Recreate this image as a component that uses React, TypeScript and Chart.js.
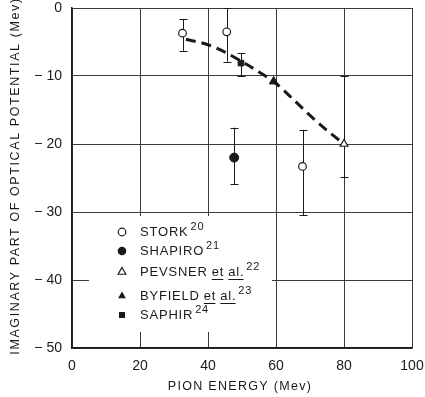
import React, { useEffect, useRef } from "react";
import { Chart, registerables } from "chart.js";

Chart.register(...registerables);

// ---- data ----
const xTickValues = [0, 20, 40, 60, 80, 100];
const xTickLabels = ["0", "20", "40", "60", "80", "100"];
const yTickValues = [0, -10, -20, -30, -40, -50];
const yTickLabels = ["0", "\u2212 10", "\u2212 20", "\u2212 30", "\u2212 40", "\u2212 50"];

const storkX = [32.5, 45.5, 67.8];
const storkY = [-3.7, -3.5, -23.3];
const storkLo = [-6.3, -7.9, -30.5];
const storkHi = [-1.6, 0, -17.9];

const shapiroX = [47.7];
const shapiroY = [-22];
const shapiroLo = [-25.9];
const shapiroHi = [-17.6];

const pevsnerX = [80];
const pevsnerY = [-20];
const pevsnerLo = [-24.9];
const pevsnerHi = [-10];

const byfieldX = [59.3];
const byfieldY = [-10.8];

const saphirX = [49.7];
const saphirY = [-8.1];
const saphirLo = [-10];
const saphirHi = [-6.6];

const curveX = [33.5, 40, 45, 50, 55, 60, 65, 70, 75, 80];
const curveY = [-4.6, -5.4, -6.5, -7.9, -9.4, -11.1, -13.4, -15.8, -18.0, -20];

const legendNames = ["STORK", "SHAPIRO", "PEVSNER", "BYFIELD", "SAPHIR"];
const legendEtAl = [false, false, true, true, false];
const legendRefs = ["20", "21", "22", "23", "24"];

const xTitle = "PION ENERGY (Mev)";
const yTitle = "IMAGINARY PART OF OPTICAL POTENTIAL (Mev)";

const INK = "#1a1a1a";
const FONT = "'Liberation Sans', Arial, sans-serif";

const pts = (xs: number[], ys: number[]) => xs.map((x, i) => ({ x, y: ys[i] }));

const errorBarPlugin = {
  id: "errorBars",
  beforeDatasetsDraw(chart: any) {
    const ctx = chart.ctx;
    const xs = chart.scales.x;
    const ys = chart.scales.y;
    ctx.save();
    ctx.strokeStyle = INK;
    ctx.lineWidth = 1;
    chart.data.datasets.forEach((ds: any) => {
      if (!ds.errLo) return;
      ds.data.forEach((p: any, i: number) => {
        const px = Math.round(xs.getPixelForValue(p.x)) + 0.5;
        const y1 = ys.getPixelForValue(ds.errLo[i]);
        const y2 = ys.getPixelForValue(ds.errHi[i]);
        ctx.beginPath();
        ctx.moveTo(px, y1);
        ctx.lineTo(px, y2);
        ctx.moveTo(px - 4, Math.round(y1) + 0.5);
        ctx.lineTo(px + 4, Math.round(y1) + 0.5);
        ctx.moveTo(px - 4, Math.round(y2) + 0.5);
        ctx.lineTo(px + 4, Math.round(y2) + 0.5);
        ctx.stroke();
      });
    });
    ctx.restore();
  },
};

function drawMarker(ctx: CanvasRenderingContext2D, kind: number, x: number, y: number) {
  ctx.save();
  ctx.strokeStyle = INK;
  ctx.fillStyle = INK;
  ctx.lineWidth = 1.2;
  ctx.beginPath();
  if (kind === 0) {
    ctx.arc(x, y, 3.8, 0, Math.PI * 2);
    ctx.fillStyle = "#fff";
    ctx.fill();
    ctx.stroke();
  } else if (kind === 1) {
    ctx.arc(x, y, 4.3, 0, Math.PI * 2);
    ctx.fill();
  } else if (kind === 2 || kind === 3) {
    const r = 4.5;
    ctx.moveTo(x, y - r);
    ctx.lineTo(x + r * 0.866, y + r * 0.5);
    ctx.lineTo(x - r * 0.866, y + r * 0.5);
    ctx.closePath();
    if (kind === 2) {
      ctx.fillStyle = "#fff";
      ctx.fill();
      ctx.stroke();
    } else {
      ctx.fill();
    }
  } else {
    ctx.rect(x - 3, y - 3, 6, 6);
    ctx.fill();
  }
  ctx.restore();
}

const legendPlugin = {
  id: "boxLegend",
  afterDraw(chart: any) {
    const ctx = chart.ctx as CanvasRenderingContext2D;
    ctx.save();
    ctx.fillStyle = "#fff";
    ctx.fillRect(89, 216, 183, 116);
    const rows = [232, 251, 272, 296, 315];
    const mx = 122;
    const tx = 140;
    legendNames.forEach((name, i) => {
      const y = rows[i];
      drawMarker(ctx, i, mx, y);
      ctx.fillStyle = INK;
      ctx.strokeStyle = INK;
      (ctx as any).letterSpacing = "0.8px";
      ctx.font = `13px ${FONT}`;
      ctx.textBaseline = "middle";
      ctx.textAlign = "left";
      let cx = tx;
      ctx.fillText(name, cx, y);
      cx += ctx.measureText(name).width;
      if (legendEtAl[i]) {
        const space = 4;
        cx += space;
        ["et", "al."].forEach((w, k) => {
          ctx.fillText(w, cx, y);
          const ww = ctx.measureText(w).width - 0.8;
          ctx.lineWidth = 1;
          ctx.beginPath();
          ctx.moveTo(cx, y + 7.5);
          ctx.lineTo(cx + ww, y + 7.5);
          ctx.stroke();
          cx += ww + 0.8;
          if (k === 0) cx += space;
        });
      }
      ctx.font = `11px ${FONT}`;
      ctx.fillText(legendRefs[i], cx + 2, y - 5);
    });
    ctx.restore();
  },
};

const titlePlugin = {
  id: "axisTitles",
  afterDraw(chart: any) {
    const ctx = chart.ctx as CanvasRenderingContext2D;
    ctx.save();
    ctx.fillStyle = INK;
    ctx.textAlign = "center";
    ctx.textBaseline = "middle";
    ctx.font = `12.5px ${FONT}`;
    (ctx as any).letterSpacing = "1.3px";
    ctx.fillText(xTitle, 240, 387);
    ctx.translate(16, 176);
    ctx.rotate(-Math.PI / 2);
    (ctx as any).letterSpacing = "1.6px";
    ctx.fillText(yTitle, 0, 0);
    ctx.restore();
  },
};

export default function App() {
  const ref = useRef<HTMLCanvasElement>(null);
  useEffect(() => {
    const chart = new Chart(ref.current!, {
      type: "scatter",
      data: {
        datasets: [
          {
            label: "STORK",
            data: pts(storkX, storkY),
            errLo: storkLo,
            errHi: storkHi,
            pointStyle: "circle",
            pointRadius: 3.8,
            pointBackgroundColor: "#fff",
            pointBorderColor: INK,
            pointBorderWidth: 1.2,
          } as any,
          {
            label: "SHAPIRO",
            data: pts(shapiroX, shapiroY),
            errLo: shapiroLo,
            errHi: shapiroHi,
            pointStyle: "circle",
            pointRadius: 4.5,
            pointBackgroundColor: INK,
            pointBorderColor: INK,
            pointBorderWidth: 1,
          } as any,
          {
            label: "PEVSNER et al.",
            data: pts(pevsnerX, pevsnerY),
            errLo: pevsnerLo,
            errHi: pevsnerHi,
            pointStyle: "triangle",
            pointRadius: 4.5,
            pointBackgroundColor: "#fff",
            pointBorderColor: INK,
            pointBorderWidth: 1.2,
          } as any,
          {
            label: "BYFIELD et al.",
            data: pts(byfieldX, byfieldY),
            pointStyle: "triangle",
            pointRadius: 5,
            pointBackgroundColor: INK,
            pointBorderColor: INK,
            pointBorderWidth: 1,
          } as any,
          {
            label: "SAPHIR",
            data: pts(saphirX, saphirY),
            errLo: saphirLo,
            errHi: saphirHi,
            pointStyle: "rect",
            pointRadius: 4,
            pointBackgroundColor: INK,
            pointBorderColor: INK,
            pointBorderWidth: 1,
          } as any,
          {
            label: "fit",
            data: pts(curveX, curveY),
            showLine: true,
            borderColor: INK,
            borderWidth: 3,
            borderDash: [10, 6],
            cubicInterpolationMode: "monotone",
            pointRadius: 0,
            fill: false,
          } as any,
        ],
      },
      options: {
        animation: false,
        responsive: false,
        devicePixelRatio: 1,
        layout: { padding: { top: 8, right: 13, left: 0, bottom: 0 } },
        plugins: { legend: { display: false }, tooltip: { enabled: false } },
        scales: {
          x: {
            type: "linear",
            min: 0,
            max: 100,
            afterBuildTicks: (s: any) => {
              s.ticks = xTickValues.map((v) => ({ value: v }));
            },
            afterFit: (s: any) => {
              s.height = 49;
              s.paddingLeft = 0;
              s.paddingRight = 0;
              s.paddingTop = 0;
              s.paddingBottom = 0;
            },
            ticks: {
              padding: 10,
              color: INK,
              font: { family: FONT, size: 14 },
              callback: (_v: any, i: number) => xTickLabels[i],
              maxRotation: 0,
            },
            grid: { color: "#3a3a3a", lineWidth: 1, drawTicks: false },
            border: { color: INK, width: 1.5 },
          },
          y: {
            type: "linear",
            min: -50,
            max: 0,
            afterBuildTicks: (s: any) => {
              s.ticks = yTickValues.map((v) => ({ value: v }));
            },
            afterFit: (s: any) => {
              s.width = 72;
              s.paddingLeft = 0;
              s.paddingRight = 0;
              s.paddingTop = 0;
              s.paddingBottom = 0;
            },
            ticks: {
              padding: 10,
              color: INK,
              font: { family: FONT, size: 14 },
              callback: (_v: any, i: number) => yTickLabels[i],
            },
            grid: { color: "#3a3a3a", lineWidth: 1, drawTicks: false },
            border: { color: INK, width: 1.5 },
          },
        },
      },
      plugins: [errorBarPlugin, legendPlugin, titlePlugin],
    } as any);
    return () => chart.destroy();
  }, []);
  return (
    <div style={{ position: "absolute", left: 0, top: 0, width: 425, height: 397 }}>
      <canvas ref={ref} width={425} height={397} style={{ display: "block", width: 425, height: 397 }} />
    </div>
  );
}
